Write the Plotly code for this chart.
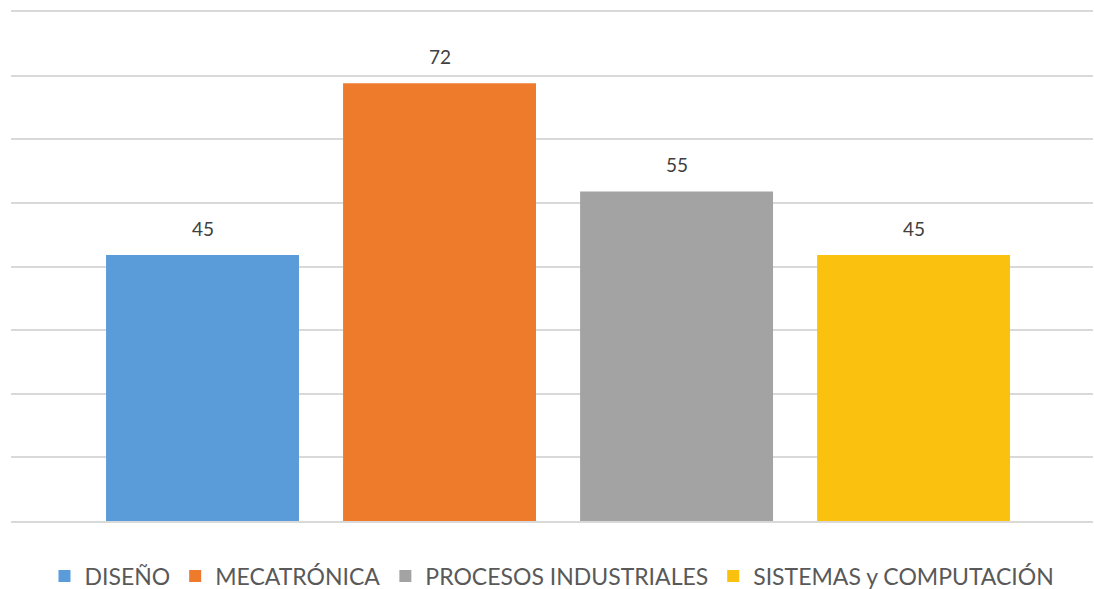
import plotly.graph_objects as go

categories = ["DISEÑO", "MECATRÓNICA", "PROCESOS INDUSTRIALES", "SISTEMAS y COMPUTACIÓN"]
values = [45, 72, 55, 45]
colors = ["#5A9BDA", "#EE7B2C", "#A3A3A3", "#FBC10F"]

fig = go.Figure()
for i, (cat, v, c) in enumerate(zip(categories, values, colors)):
    fig.add_trace(go.Bar(
        x=[i], y=[v], name=cat, width=0.814,
        marker=dict(color=c, line=dict(width=0)),
        hoverinfo="name+y",
    ))
    fig.add_annotation(x=i, y=v, text=str(v), showarrow=False, yanchor="bottom",
                       yshift=13, font=dict(size=19, color="#404040", family="Lato"))

fig.update_layout(
    width=1094, height=589,
    margin=dict(l=11, r=1, t=12, b=68),
    plot_bgcolor="white", paper_bgcolor="white",
    barmode="overlay",
    showlegend=True,
    legend=dict(orientation="h", x=0.5, xanchor="center",
                yref="container", y=0.022, yanchor="middle",
                font=dict(size=23, color="#595959", family="Lato"),
                itemwidth=30, tracegroupgap=0, traceorder="normal"),
    xaxis=dict(range=[-0.808, 3.757], showticklabels=False, showgrid=False,
               zeroline=False, showline=True, linecolor="#D9D9D9", linewidth=1.5,
               mirror=True, ticks=""),
    yaxis=dict(range=[3.2, 83.2], tick0=3.2, dtick=10, showticklabels=False,
               showgrid=True, gridcolor="#D9D9D9", gridwidth=1.5,
               zeroline=False, showline=False, ticks=""),
)
fig.write_html("out.html", config={"displayModeBar": False},
               post_script="document.body.style.margin='0';")
